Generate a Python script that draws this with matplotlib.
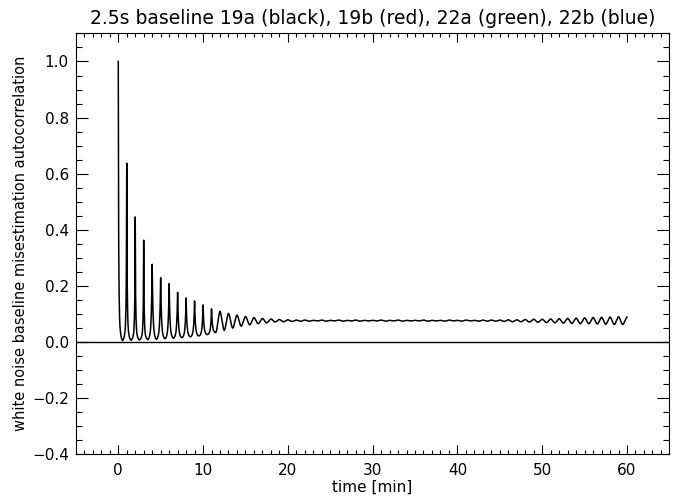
import numpy as np
import matplotlib
matplotlib.use('Agg')
import matplotlib.pyplot as plt
from matplotlib.ticker import MultipleLocator, FuncFormatter

# ── values ───────────────────────────────────────────────────────────────────
# peak height at every whole minute (t = 0 .. 60)
peak_vals = [
    1.000, 0.637, 0.445, 0.362, 0.276, 0.228, 0.207, 0.176, 0.156, 0.145,
    0.131, 0.117, 0.108, 0.101, 0.095, 0.090, 0.086, 0.083, 0.081, 0.079,
    0.078, 0.077, 0.077, 0.076, 0.077, 0.076, 0.077, 0.076, 0.077, 0.076,
    0.076, 0.077, 0.076, 0.077, 0.076, 0.076, 0.077, 0.076, 0.076, 0.077,
    0.076, 0.077, 0.076, 0.077, 0.077, 0.077, 0.078, 0.078, 0.079, 0.080,
    0.080, 0.081, 0.082, 0.083, 0.084, 0.085, 0.086, 0.087, 0.088, 0.089,
    0.088,
]
# trough height half way between peaks (t = 0.5 .. 59.5)
trough_vals = [
    0.004, 0.005, 0.006, 0.007, 0.008, 0.010, 0.012, 0.014, 0.017, 0.020,
    0.025, 0.032, 0.040, 0.048, 0.055, 0.060, 0.064, 0.067, 0.070, 0.071,
    0.072, 0.073, 0.073, 0.074, 0.073, 0.074, 0.073, 0.074, 0.073, 0.074,
    0.074, 0.073, 0.074, 0.073, 0.074, 0.074, 0.073, 0.074, 0.073, 0.074,
    0.073, 0.074, 0.073, 0.073, 0.073, 0.072, 0.071, 0.071, 0.070, 0.069,
    0.068, 0.067, 0.066, 0.065, 0.064, 0.064, 0.063, 0.062, 0.061, 0.061,
]
# shape of one half period (distance from peak [min] -> fraction of peak)
shape_offsets = [0.0, 0.02, 0.05, 0.10, 0.15, 0.20, 0.30, 0.40, 0.50]
sharp_frac = [1.0, 0.70, 0.35, 0.17, 0.09, 0.05, 0.02, 0.006, 0.0]
medium_frac = [1.0, 0.85, 0.60, 0.36, 0.22, 0.13, 0.05, 0.015, 0.0]
round_frac = [1.0, 0.99, 0.95, 0.88, 0.76, 0.63, 0.35, 0.10, 0.0]
SHARP_UNTIL = 4    # peaks before this minute are needle-like
MEDIUM_UNTIL = 12  # then medium width, then rounded

TITLE = "2.5s baseline 19a (black), 19b (red), 22a (green), 22b (blue)"


def frac_for(k):
    if k < SHARP_UNTIL:
        return sharp_frac
    if k < MEDIUM_UNTIL:
        return medium_frac
    return round_frac


# ── build the curve from the read values ─────────────────────────────────────
t_pts, y_pts = [], []
for k in range(len(trough_vals)):
    base = trough_vals[k]
    fr_l = frac_for(k)
    fr_r = frac_for(k + 1)
    # falling side of peak k
    for off, f in zip(shape_offsets, fr_l):
        t_pts.append(k + off)
        y_pts.append(base + (peak_vals[k] - base) * f)
    # rising side of peak k+1
    for off, f in zip(shape_offsets[::-1][1:], fr_r[::-1][1:]):
        t_pts.append(k + 1 - off)
        y_pts.append(base + (peak_vals[k + 1] - base) * f)

t_pts = np.array(t_pts)
y_pts = np.array(y_pts)

# ── figure ───────────────────────────────────────────────────────────────────
fig = plt.figure(figsize=(6.91, 4.99), dpi=100)
ax = fig.add_axes([0.1098, 0.0908, 0.8589, 0.8421])

ax.plot(t_pts, y_pts, color='black', lw=1.1)
ax.axhline(0.0, color='black', lw=1.0)

ax.set_xlim(-5, 65)
ax.set_ylim(-0.4, 1.1)
ax.xaxis.set_major_locator(MultipleLocator(10))
ax.xaxis.set_minor_locator(MultipleLocator(1))
ax.yaxis.set_major_locator(MultipleLocator(0.2))
ax.yaxis.set_minor_locator(MultipleLocator(0.05))
ax.yaxis.set_major_formatter(
    FuncFormatter(lambda v, p: f"{v:.1f}".replace('-', '\u2212')))

ax.tick_params(axis='both', which='both', direction='in',
               top=True, right=True, width=0.8, labelsize=11)
ax.tick_params(axis='x', which='major', length=6.2, pad=7)
ax.tick_params(axis='x', which='minor', length=3.1)
ax.tick_params(axis='y', which='major', length=8.3, pad=5)
ax.tick_params(axis='y', which='minor', length=4.2)
for sp in ax.spines.values():
    sp.set_linewidth(0.8)

ax.set_title(TITLE, fontsize=13.5, pad=7)
ax.set_xlabel("time [min]", fontsize=11, labelpad=1)
ax.set_ylabel("white noise baseline misestimation autocorrelation",
              fontsize=10.5, labelpad=3)

fig.savefig("out.png", dpi=100)
